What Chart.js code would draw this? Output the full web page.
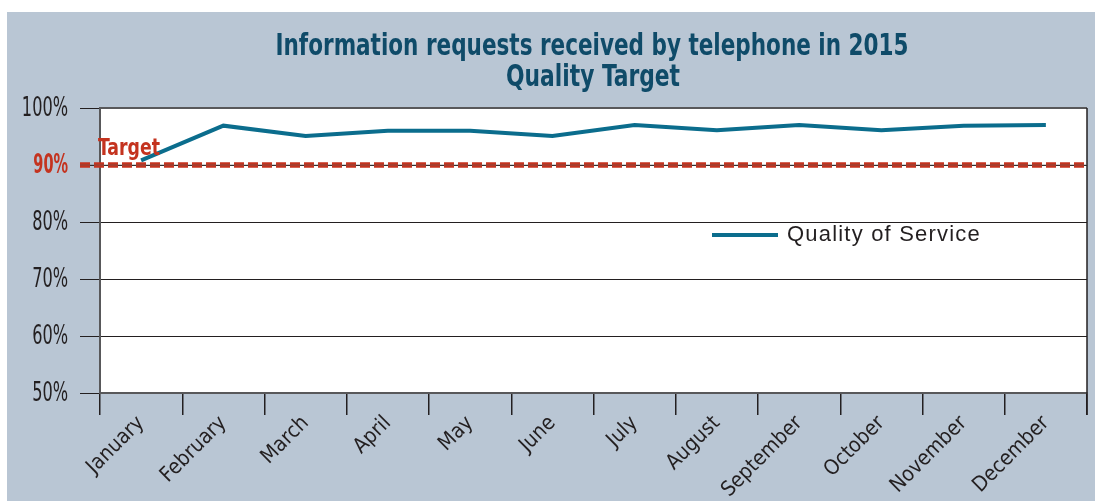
<!DOCTYPE html>
<html>
<head>
<meta charset="utf-8">
<script src="https://cdn.jsdelivr.net/npm/chart.js@4/dist/chart.umd.min.js"></script>
<style>
html,body{margin:0;padding:0;background:#fff;}
#wrap{width:1095px;height:501px;position:relative;}
</style>
</head>
<body>
<div id="wrap"><canvas id="c" width="1095" height="501"></canvas></div>
<script>
// data
const MONTHS=['January','February','March','April','May','June','July','August','September','October','November','December'];
const QOS=[90.8,96.9,95.1,96,96,95.1,97,96.1,97,96.1,96.9,97];
const TARGET=90;
const Y_TICKS=[50,60,70,80,90,100];
const TITLE_LINES=['Information requests received by telephone in 2015','Quality Target'];

const NARROW='"Liberation Sans Narrow","DejaVu Sans Condensed",sans-serif';
const RED='#c4331f', TEAL='#0b6d8d', INK='#231f20';

// squeeze text to a given width (no narrow font installed)
function fitText(c,txt,x,y,w){
  const m=c.measureText(txt).width;
  c.save();c.translate(x,y);c.scale(w/m,1);c.fillText(txt,0,0);c.restore();
}
function squeezeText(c,txt,x,y,k){
  c.save();c.translate(x,y);c.scale(k,1);c.fillText(txt,0,0);c.restore();
}

// panel bg + title + target + legend, drawn by hand
const deco={
  id:'deco',
  beforeDraw(ch){
    const c=ch.ctx;
    c.save();
    c.fillStyle='#b9c6d4';c.fillRect(7,12,ch.width-7,ch.height-12);
    const a=ch.chartArea;
    c.fillStyle='#fff';c.fillRect(a.left,a.top,a.right-a.left,a.bottom-a.top);
    c.fillStyle='#0f4b69';c.font='bold 31px '+NARROW;c.textAlign='center';c.textBaseline='alphabetic';
    fitText(c,TITLE_LINES[0],592,55,633);
    fitText(c,TITLE_LINES[1],593,86,174);
    c.restore();
  },
  afterDatasetsDraw(ch){
    const c=ch.ctx,a=ch.chartArea,ys=ch.scales.y,y=ys.getPixelForValue(TARGET);
    c.save();
    // plot frame
    c.strokeStyle='#58585a';c.lineWidth=2;
    c.beginPath();c.moveTo(a.left,a.top);c.lineTo(a.right,a.top);c.stroke();
    c.strokeStyle=INK;c.lineWidth=1.5;
    c.beginPath();c.moveTo(a.right,a.top);c.lineTo(a.right,a.bottom+22);c.stroke();
    // target line
    c.strokeStyle=RED;c.lineWidth=5.5;c.setLineDash([10,4]);
    c.beginPath();c.moveTo(80,y);c.lineTo(a.right,y);c.stroke();
    c.setLineDash([]);
    c.strokeStyle='rgba(90,90,90,0.55)';c.lineWidth=1;
    c.beginPath();c.moveTo(80,y);c.lineTo(a.right,y);c.stroke();
    c.fillStyle=RED;c.font='bold 23px '+NARROW;c.textAlign='left';c.textBaseline='alphabetic';
    fitText(c,'Target',98,y-10,62);
    // y tick labels (condensed)
    c.textAlign='right';c.textBaseline='middle';
    ys.ticks.forEach(t=>{
      const hit=t.value===TARGET;
      c.fillStyle=hit?RED:INK;
      c.font=(hit?'bold ':'')+'26px '+NARROW;
      squeezeText(c,t.value+'%',68,ys.getPixelForValue(t.value)+1,hit?0.62:0.69);
    });
    // legend
    c.strokeStyle=TEAL;c.lineWidth=4;
    c.beginPath();c.moveTo(712,235);c.lineTo(778,235);c.stroke();
    c.fillStyle=INK;c.font='22px "Liberation Sans",Arial,sans-serif';c.textBaseline='middle';c.textAlign='left';
    c.letterSpacing='1.2px';
    c.fillText('Quality of Service',787,235);
    c.restore();
  }
};

new Chart(document.getElementById('c').getContext('2d'),{
  type:'line',
  data:{labels:MONTHS,datasets:[
    {label:'Quality of Service',data:QOS,borderColor:TEAL,borderWidth:4,pointRadius:0,tension:0,fill:false}
  ]},
  options:{
    responsive:false,animation:false,
    layout:{padding:{left:0,top:108,right:8,bottom:0}},
    plugins:{legend:{display:false},title:{display:false},tooltip:{enabled:false}},
    scales:{
      x:{
        offset:true,
        grid:{offset:true,drawOnChartArea:false,color:INK,lineWidth:1.5,tickLength:22},
        border:{color:'#58585a',width:2},
        ticks:{color:INK,font:{family:NARROW,size:21},minRotation:45,maxRotation:45,padding:-4,autoSkip:false},
        afterFit(s){s.height=108;}
      },
      y:{
        min:50,max:100,
        afterBuildTicks(s){s.ticks=Y_TICKS.map(v=>({value:v}));},
        grid:{color:INK,lineWidth:1,tickLength:20},
        border:{color:'#58585a',width:2},
        ticks:{display:false},
        afterFit(s){s.width=100;}
      }
    }
  },
  plugins:[deco]
});
</script>
</body>
</html>
